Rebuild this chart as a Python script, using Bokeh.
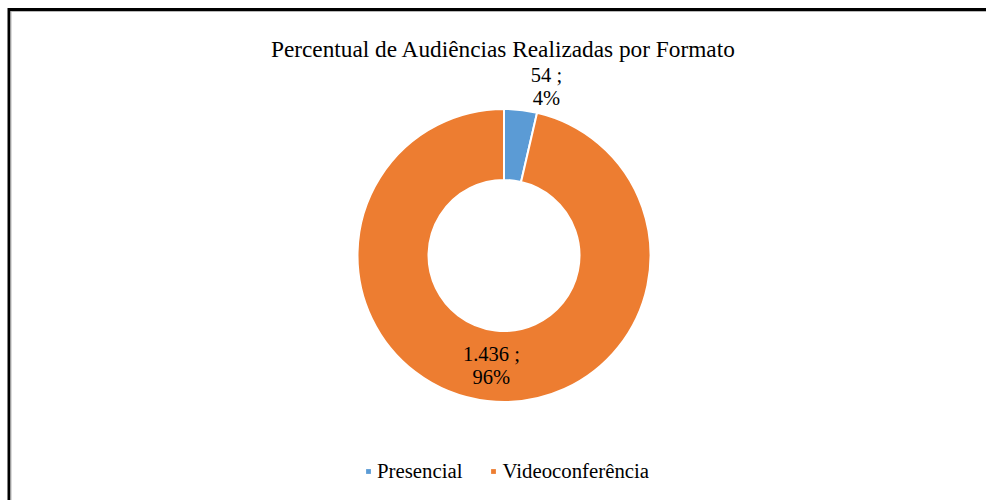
import math
from bokeh.plotting import figure
from bokeh.models import Range1d, Legend, LegendItem, ColumnDataSource
from bokeh.core.properties import value
from bokeh.embed import file_html
from bokeh.resources import INLINE

# ---- data ----
title_text = "Percentual de Audiências Realizadas por Formato"
categories = ["Presencial", "Videoconferência"]
counts = [54, 1436]
count_labels = ["54", "1.436"]
percent_labels = ["4%", "96%"]
colors = ["#5B9BD5", "#ED7D31"]

W, H = 986, 500
FONT = "Liberation Serif"

p = figure(width=W, height=H, output_backend="svg", toolbar_location=None,
           x_range=Range1d(0, W), y_range=Range1d(0, H), min_border=0,
           x_axis_location=None, y_axis_location=None)
p.grid.visible = False
p.outline_line_color = None
p.background_fill_color = "white"
p.border_fill_color = "white"

# chart border (left + top), decoration in pixel-matched units
p.line(x=[8.5, 8.5, W + 5], y=[-5, H - 9, H - 9], line_color="black",
       line_width=3, line_join="miter")
p.line(x=[10.5, 10.5, W + 5], y=[-5, H - 11, H - 11], line_color="#b8b8b8",
       line_width=1, line_join="miter")

# donut geometry (styling)
cx, cy = 503.5, 245
r_out, r_in = 146.5, 75.5

total = sum(counts)
starts, ends, mids = [], [], []
acc = 0
for c in counts:
    a0 = math.pi / 2 - 2 * math.pi * acc / total
    acc += c
    a1 = math.pi / 2 - 2 * math.pi * acc / total
    starts.append(a0)
    ends.append(a1)
    mids.append((a0 + a1) / 2)

src = ColumnDataSource(dict(x=[cx] * len(counts), y=[cy] * len(counts),
                            start=starts, end=ends, color=colors, cat=categories))
p.annular_wedge(x="x", y="y", inner_radius=r_in, outer_radius=r_out,
                start_angle="start", end_angle="end", direction="clock",
                fill_color="color", line_color="white", line_width=2, source=src)

# data labels
lab_x, lab_y, lab_t = [], [], []
for i in range(len(counts)):
    if counts[i] / total < 0.1:
        ang = mids[i] - math.radians(7.6)
        rr = r_out + 27.5
    else:
        ang = mids[i]
        rr = (r_out + r_in) / 2
    lab_x.append(cx + rr * math.cos(ang))
    lab_y.append(cy + rr * math.sin(ang))
    lab_t.append(f"{count_labels[i]} ;\n{percent_labels[i]}")
p.text(x=lab_x, y=lab_y, text=lab_t, text_font=value(FONT), text_font_size="20.5px",
       text_align="center", text_baseline="middle", text_line_height=1.05,
       text_color="#000000")

# title
p.text(x=[503], y=[452], text=[title_text], text_font=value(FONT),
       text_font_size="23.3px", text_align="center", text_baseline="alphabetic",
       text_color="#000000")

# legend with square markers
items = []
for i, cat in enumerate(categories):
    r = p.rect(x=[cx], y=[cy], width=1, height=1, fill_color=colors[i],
               line_color=None, visible=False)
    items.append(LegendItem(label=cat, renderers=[r]))
legend = Legend(items=items, orientation="horizontal", location=(365, 17),
                label_text_font=FONT, label_text_font_size="20.8px",
                label_text_color="#000000", glyph_width=6, glyph_height=6,
                label_standoff=6, spacing=28, padding=0, margin=0,
                border_line_color=None, background_fill_alpha=0)
p.add_layout(legend, "center")

open("out.html", "w").write(file_html(p, INLINE))
